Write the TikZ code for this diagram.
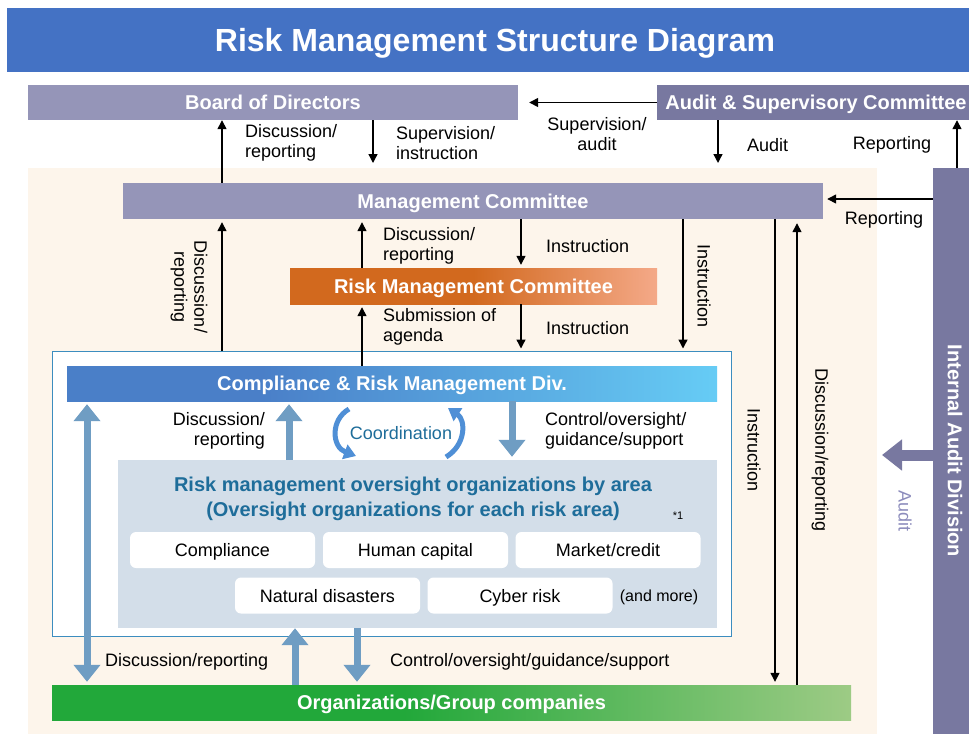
\documentclass[tikz,border=0pt]{standalone}
\usepackage{fontspec}
\setmainfont{Liberation Sans}
\usepackage{xcolor}
\usetikzlibrary{arrows.meta}
\usetikzlibrary{calc}
\usetikzlibrary{positioning}

\definecolor{titleblue}{HTML}{4472C4}
\definecolor{boardpurple}{HTML}{9595B8}
\definecolor{auditpurple}{HTML}{7878A0}
\definecolor{audittext}{HTML}{8C8CBC}
\definecolor{cream}{HTML}{FDF5EB}
\definecolor{frameblue}{HTML}{3C8DBF}
\definecolor{crmL}{HTML}{4A7FC8}
\definecolor{crmR}{HTML}{66CCF5}
\definecolor{oversgrey}{HTML}{D3DEE9}
\definecolor{tealtext}{HTML}{1E6D9A}
\definecolor{arrowblue}{HTML}{6F9DC3}
\definecolor{coordblue}{HTML}{4F8FD6}
\definecolor{orgG}{HTML}{22A83A}
\definecolor{orgL}{HTML}{9DCB85}
\definecolor{rmcL}{HTML}{D2691E}
\definecolor{rmcR}{HTML}{F4A988}

\pgfdeclarehorizontalshading{orgshade}{100bp}{color(0bp)=(orgG); color(25bp)=(orgG);
  color(47bp)=(orgG); color(75bp)=(orgL); color(100bp)=(orgL)}
\pgfdeclarehorizontalshading{rmcshade}{100bp}{color(0bp)=(rmcL); color(25bp)=(rmcL);
  color(50bp)=(rmcL); color(75bp)=(rmcR); color(100bp)=(rmcR)}
\pgfdeclarehorizontalshading{crmshade}{100bp}{color(0bp)=(crmL); color(25bp)=(crmL);
  color(40bp)=(crmL); color(75bp)=(crmR); color(100bp)=(crmR)}

\begin{document}
\begin{tikzpicture}[x=1pt, y=-1pt, >={Triangle[length=9pt,width=9pt]},
      lab/.style={font=\fontsize{18}{20}\selectfont, align=left, inner sep=0pt},
      bar/.style={rectangle, inner sep=0pt, text=white, text height=14.4pt, text depth=0pt,
        font=\fontsize{20}{22}\selectfont\bfseries},
      thinarrow/.style={->, line width=1.4pt},
      fatarrow/.style={line width=7pt, draw=arrowblue, -{Triangle[length=17pt,width=26pt]}},
      coordarrow/.style={line width=5pt, draw=coordblue, -{Triangle[length=12pt,width=15pt]}},
      riskbox/.style={rectangle, rounded corners=6pt, fill=white, minimum width=185pt,
        minimum height=36pt, text height=13pt, text depth=0pt, font=\fontsize{18}{20}\selectfont}]
      \useasboundingbox (0,0) rectangle (969,734);
      \fill[white] (0,0) rectangle (969,734);
      % Title
      \node[bar, fill=titleblue, minimum width=976pt, minimum height=64pt, text height=23pt,
        font=\fontsize{32}{34}\selectfont\bfseries] (title) at (495,40) {Risk Management Structure Diagram};
      % Board level
      \node[bar, fill=boardpurple, minimum width=490pt, minimum height=35pt] (board) at (273,102.5) {Board of Directors};
      \node[bar, fill=auditpurple, minimum width=318pt, minimum height=35pt] (asc) at (816,102.5) {Audit \& Supervisory Committee};
      % Executive area
      \fill[cream] (28,168) rectangle (877,734);
      \coordinate (creamtop) at (0,163);
      \node[bar, fill=auditpurple, minimum width=44pt, minimum height=566pt] (iad) at (955,451) {};
      \node[text=white, font=\fontsize{20}{22}\selectfont\bfseries, rotate=-90] (iadtext) at (iad.center) {Internal Audit Division};
      \node[bar, fill=boardpurple, minimum width=700pt, minimum height=36pt] (mc) at (473,201) {Management Committee};
      \node[bar, shading=rmcshade, minimum width=367pt, minimum height=36pt] (rmc) at (473.5,286) {Risk Management Committee};
      % Compliance frame
      \node[draw=frameblue, fill=white, line width=1pt, minimum width=679pt, minimum height=285pt] (frame) at (391.5,493.5) {};
      \node[bar, shading=crmshade, minimum width=650pt, minimum height=35pt] (crm) at (392,383.5) {Compliance \& Risk Management Div.};
      \node[fill=oversgrey, minimum width=599pt, minimum height=168pt] (overs) at (417.5,544) {};
      \node[text=tealtext, align=center, font=\fontsize{20}{25}\selectfont\bfseries] (overstitle) at (413,499)
        {Risk management oversight organizations by area\\(Oversight organizations for each risk area)};
      \node[font=\fontsize{11}{12}\selectfont] (note) at (678,516) {*1};
      \node[riskbox] (comp) at (222.5,550) {Compliance};
      \node[riskbox] (human) at (415.5,550) {Human capital};
      \node[riskbox] (market) at (608,550) {Market/credit};
      \node[riskbox] (natural) at (327.5,595.5) {Natural disasters};
      \node[riskbox] (cyber) at (520,595.5) {Cyber risk};
      \node[font=\fontsize{16}{18}\selectfont] (more) at (659,597) {(and more)};
      \node[bar, shading=orgshade, minimum width=799pt, minimum height=35pt] (org) at (451.5,702.5) {Organizations/Group companies};
      % Arrows between board and management
      \draw[thinarrow] (222,0 |- mc.north) -- (222,0 |- board.south);
      \draw[thinarrow] (373,0 |- board.south) -- (373,0 |- creamtop);
      \draw[thinarrow, shorten >=11pt] (asc.west) -- (board.east);
      \draw[thinarrow] (718,0 |- asc.south) -- (718,0 |- creamtop);
      \draw[thinarrow] (957,0 |- iad.north) -- (957,0 |- asc.south);
      \draw[thinarrow, shorten >=4pt] (iad.west |- 0,199) -- (mc.east |- 0,199);
      \node[lab] (l1) at (245,143) [anchor=west] {Discussion/\\reporting};
      \node[lab] (l2) at (396,143) [anchor=west] {Supervision/\\instruction};
      \node[lab, align=center] (l3) at (597,134) {Supervision/\\audit};
      \node[lab] (l4) at (747,145) [anchor=west] {Audit};
      \node[lab] (l5) at (892,145) {Reporting};
      \node[lab] (l6) at (884,220) {Reporting};
      % Arrows around the risk management committee
      \draw[thinarrow, shorten >=3pt] (362,0 |- rmc.north) -- (362,0 |- mc.south);
      \draw[thinarrow, shorten >=3pt] (521,0 |- mc.south) -- (521,0 |- rmc.north);
      \draw[thinarrow, shorten >=3pt] (362,0 |- crm.north) -- (362,0 |- rmc.south);
      \draw[thinarrow, shorten >=2pt] (521,0 |- rmc.south) -- (521,0 |- frame.north);
      \draw[thinarrow, shorten >=2pt] (683,0 |- mc.south) -- (683,0 |- frame.north);
      \draw[thinarrow, shorten >=3pt] (222,0 |- frame.north) -- (222,0 |- mc.south);
      \draw[thinarrow, shorten >=3pt] (775,0 |- mc.south) -- (775,0 |- org.north);
      \draw[thinarrow, shorten >=4pt] (797,0 |- org.north) -- (797,0 |- mc.south);
      \node[lab] (l7) at (383,246) [anchor=west] {Discussion/\\reporting};
      \node[lab] (l8) at (546,246) [anchor=west] {Instruction};
      \node[lab] (l9) at (383,327) [anchor=west] {Submission of\\agenda};
      \node[lab] (l10) at (546,328) [anchor=west] {Instruction};
      \node[lab, rotate=-90] (l11) at (704,286) {Instruction};
      \node[lab, rotate=-90, align=center] (l12) at (189,287) {Discussion/\\reporting};
      \node[lab, rotate=-90] (l13) at (754,450) {Instruction};
      \node[lab, rotate=-90] (l14) at (820,450) {Discussion/reporting};
      % Internal audit
      \coordinate (audittip) at (882,455);
      \draw[line width=11pt, draw=auditpurple, -{Triangle[length=20pt,width=30pt]}] (iad.west |- audittip) -- (audittip);
      \node[lab, rotate=-90, text=audittext] (l15) at (905,511) {Audit};
      % Inside the compliance frame
      \draw[fatarrow, {Triangle[length=17pt,width=26pt]}-{Triangle[length=17pt,width=26pt]}, shorten <=3pt, shorten >=3pt]
        (87,0 |- crm.south) -- (87,0 |- org.north);
      \draw[fatarrow, shorten >=3pt] (289,0 |- overs.north) -- (289,0 |- crm.south);
      \draw[fatarrow, shorten >=3pt] (512,0 |- crm.south) -- (512,0 |- overs.north);
      \draw[fatarrow] (295,0 |- org.north) -- (295,0 |- overs.south);
      \draw[fatarrow, shorten >=3pt] (357,0 |- overs.south) -- (357,0 |- org.north);
      \node[lab, align=right] (l16) at (265,431) [anchor=east] {Discussion/\\reporting};
      \node[lab] (l17) at (545,431) [anchor=west] {Control/oversight/\\guidance/support};
      \node[lab] (l18) at (105,662) [anchor=west] {Discussion/reporting};
      \node[lab] (l19) at (390,662) [anchor=west] {Control/oversight/guidance/support};
      % Coordination
      \node[text=tealtext, font=\fontsize{18}{20}\selectfont] (coord) at (401,433) {Coordination};
      \draw[coordarrow] ([shift={(-52,-24)}]coord.center) .. controls ([shift={(-71,-13)}]coord.center)
        and ([shift={(-69,14)}]coord.center) .. ([shift={(-45,23)}]coord.center);
      \draw[coordarrow] ([shift={(45,24)}]coord.center) .. controls ([shift={(65,12)}]coord.center)
        and ([shift={(65,-13)}]coord.center) .. ([shift={(47,-25)}]coord.center);
    \end{tikzpicture}
\end{document}
